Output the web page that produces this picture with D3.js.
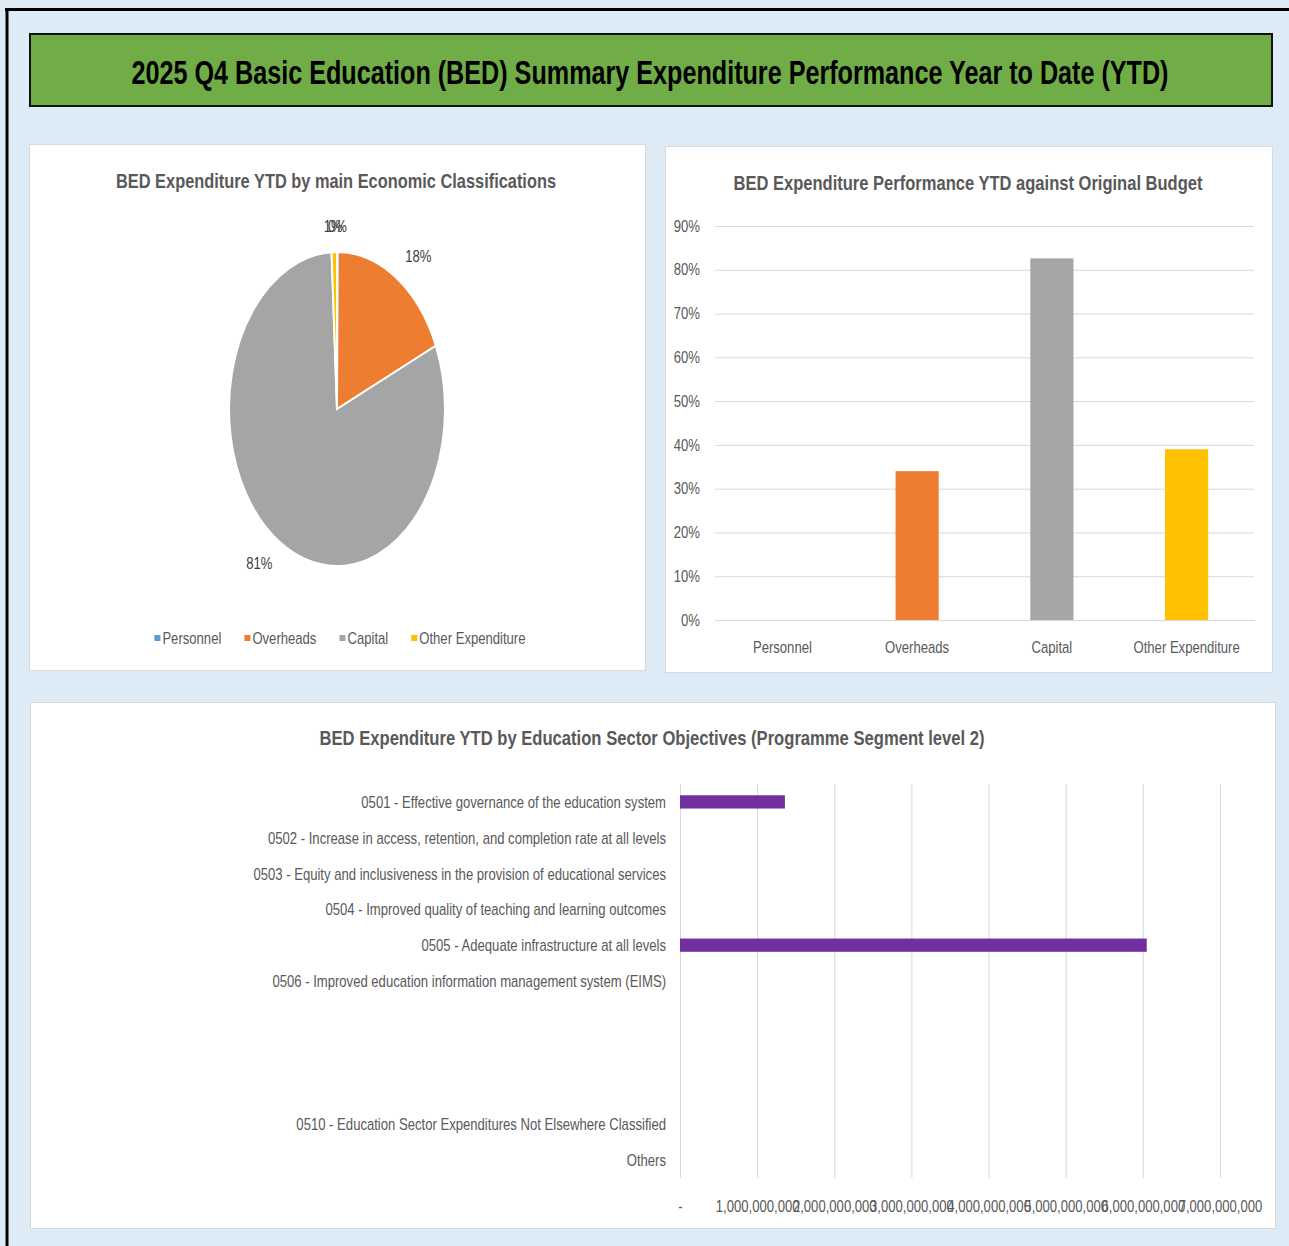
<!DOCTYPE html>
<html>
<head>
<meta charset="utf-8">
<script src="https://cdn.jsdelivr.net/npm/d3@7"></script>
<style>
  body { margin: 0; background: #DDEBF7; }
  svg { display: block; }
  text { font-family: "Liberation Sans", Arial, sans-serif; }
</style>
</head>
<body>
<svg id="dash" width="1289" height="1246"></svg>
<script>
// ---- data ----
const mainTitle = "2025 Q4 Basic Education (BED) Summary Expenditure Performance Year to Date (YTD)";

const econCategories = ["Personnel", "Overheads", "Capital", "Other Expenditure"];
const econColors = ["#5B9BD5", "#ED7D31", "#A5A5A5", "#FFC000"];
const pieShares = [0.001, 0.183, 0.808, 0.008];
const pieLabels = ["0%", "18%", "81%", "1%"];

const budgetPerf = [0, 0.34, 0.826, 0.39];
const perfTicks = [0, 0.1, 0.2, 0.3, 0.4, 0.5, 0.6, 0.7, 0.8, 0.9];

const objectives = [
  "0501 - Effective governance of the education system",
  "0502 - Increase in access, retention, and completion rate at all levels",
  "0503 - Equity and inclusiveness in the provision of educational services",
  "0504 - Improved quality of teaching and learning outcomes",
  "0505 - Adequate infrastructure at all levels",
  "0506 - Improved education information management system (EIMS)",
  "", "", "",
  "0510 - Education Sector Expenditures Not Elsewhere Classified",
  "Others"
];
const objectiveSpend = [1360000000, 0, 0, 0, 6050000000, 0, 0, 0, 0, 0, 0];
const spendTicks = [0, 1e9, 2e9, 3e9, 4e9, 5e9, 6e9, 7e9];

const svg = d3.select("#dash");
const grey = "#595959";
const fs = "16px";

// the source used a narrow (Calibri-like) face: squeeze text horizontally
const probe = svg.append("text").style("font-size", fs).text("Personnel");
const k = 59 / probe.node().getComputedTextLength();
probe.remove();

function squeeze(sel) {
  sel.each(function () {
    const t = d3.select(this);
    const x = +t.attr("x") || 0, y = +t.attr("y") || 0;
    t.attr("x", 0).attr("y", 0).attr("transform", `translate(${x},${y}) scale(${k},1)`);
  });
}

// background + frame
svg.append("rect").attr("width", 1289).attr("height", 1246).attr("fill", "#DDEBF7");
svg.append("line").attr("x1", 5).attr("x2", 1289).attr("y1", 9.5).attr("y2", 9.5)
   .attr("stroke", "#000").attr("stroke-width", 3);
svg.append("line").attr("x1", 7).attr("x2", 7).attr("y1", 8).attr("y2", 1246)
   .attr("stroke", "#000").attr("stroke-width", 3);

// banner
svg.append("rect").attr("x", 30).attr("y", 34).attr("width", 1242).attr("height", 72)
   .attr("fill", "#70AD47").attr("stroke", "#111").attr("stroke-width", 2);
svg.append("text").attr("x", 650).attr("y", 84).attr("text-anchor", "middle")
   .attr("textLength", 1037).attr("lengthAdjust", "spacingAndGlyphs")
   .style("font-size", "33px").style("font-weight", "bold").attr("fill", "#000")
   .text(mainTitle);

// panels
function panel(x, y, w, h) {
  svg.append("rect").attr("x", x + 0.5).attr("y", y + 0.5).attr("width", w).attr("height", h)
     .attr("fill", "#fff").attr("stroke", "#D9D9D9");
}
panel(29, 144, 616, 526);
panel(665, 146, 607, 526);
panel(30, 702, 1245, 526);

function chartTitle(x, y, len, txt) {
  svg.append("text").attr("x", x).attr("y", y).attr("text-anchor", "middle")
     .attr("textLength", len).attr("lengthAdjust", "spacingAndGlyphs")
     .style("font-size", "21px").style("font-weight", "bold").attr("fill", grey)
     .text(txt);
}

// ---- pie ----
chartTitle(336, 188, 440, "BED Expenditure YTD by main Economic Classifications");

const cx = 337, cy = 409, rx = 108, ry = 157;
const pie = d3.pie().sort(null).value(d => d)(pieShares);
const arc = d3.arc().innerRadius(0).outerRadius(rx);
const pg = svg.append("g").attr("transform", `translate(${cx},${cy}) scale(1,${ry / rx})`);
pg.selectAll("path").data(pie).join("path")
  .attr("d", arc)
  .attr("fill", (d, i) => econColors[i])
  .attr("stroke", "#fff").attr("stroke-width", 2)
  .attr("vector-effect", "non-scaling-stroke");

const lrx = 148, lry = 182;
svg.append("g").selectAll("text").data(pie).join("text")
  .attr("x", d => cx + lrx * Math.sin((d.startAngle + d.endAngle) / 2))
  .attr("y", d => cy - lry * Math.cos((d.startAngle + d.endAngle) / 2) + 5)
  .attr("text-anchor", "middle")
  .style("font-size", fs).attr("fill", "#404040")
  .text((d, i) => pieLabels[i])
  .call(squeeze);

// legend
const leg = svg.append("g");
let lx = 0;
econCategories.forEach((c, i) => {
  const it = leg.append("g").attr("transform", `translate(${lx},0)`);
  it.append("rect").attr("x", 0).attr("y", -9).attr("width", 6).attr("height", 6).attr("fill", econColors[i]);
  const t = it.append("text").attr("x", 8).attr("y", 0).style("font-size", fs).attr("fill", grey).text(c);
  const w = t.node().getComputedTextLength() * k;
  t.call(squeeze);
  lx += 8 + w + 23;
});
leg.attr("transform", `translate(${340 - (lx - 23) / 2},644)`);

// ---- performance bars ----
chartTitle(968, 190, 469, "BED Expenditure Performance YTD against Original Budget");

const bx = d3.scaleBand().domain(econCategories).range([715, 1254]).paddingInner(0.68).paddingOuter(0.34);
const by = d3.scaleLinear().domain([0, 0.9]).range([620, 226]);

function styleTicks(g) {
  g.selectAll(".tick text").attr("fill", grey).style("font-size", fs)
   .style("font-family", "'Liberation Sans', Arial, sans-serif").call(squeeze);
}

const bg = svg.append("g");
bg.append("g").attr("transform", "translate(715,0)")
  .call(d3.axisLeft(by).tickValues(perfTicks).tickSize(-539).tickFormat(d3.format(".0%")).tickPadding(15))
  .call(g => g.select(".domain").remove())
  .call(g => g.selectAll(".tick line").attr("stroke", "#D9D9D9"))
  .call(styleTicks);

bg.selectAll("rect.bar").data(budgetPerf).join("rect").attr("class", "bar")
  .attr("x", (d, i) => bx(econCategories[i]))
  .attr("width", bx.bandwidth())
  .attr("y", d => by(d))
  .attr("height", d => by(0) - by(d))
  .attr("fill", (d, i) => econColors[i]);

bg.append("g").attr("transform", "translate(0,620)")
  .call(d3.axisBottom(bx).tickSize(0).tickPadding(22))
  .call(g => g.select(".domain").attr("stroke", "#D9D9D9"))
  .call(styleTicks);

// ---- objectives bars ----
chartTitle(652, 745, 665, "BED Expenditure YTD by Education Sector Objectives (Programme Segment level 2)");

const hx = d3.scaleLinear().domain([0, 7e9]).range([680, 1220]);
const hy = d3.scaleBand().domain(d3.range(objectives.length)).range([784, 1178]).paddingInner(0.63).paddingOuter(0.315);

const hg = svg.append("g");
hg.append("g").attr("transform", "translate(0,784)")
  .call(d3.axisBottom(hx).tickValues(spendTicks).tickSize(394)
    .tickFormat(d => d === 0 ? "-" : d3.format(",")(d)).tickPadding(23))
  .call(g => g.select(".domain").remove())
  .call(g => g.selectAll(".tick line").attr("stroke", "#D9D9D9"))
  .call(styleTicks);

hg.selectAll("rect.hbar").data(objectiveSpend).join("rect").attr("class", "hbar")
  .attr("x", hx(0))
  .attr("y", (d, i) => hy(i))
  .attr("height", hy.bandwidth())
  .attr("width", d => hx(d) - hx(0))
  .attr("fill", "#7030A0");

hg.selectAll("text.cat").data(objectives).join("text").attr("class", "cat")
  .attr("x", 666)
  .attr("y", (d, i) => hy(i) + hy.bandwidth() / 2 + 6)
  .attr("text-anchor", "end")
  .style("font-size", fs).attr("fill", grey)
  .text(d => d)
  .call(squeeze);
</script>
</body>
</html>
